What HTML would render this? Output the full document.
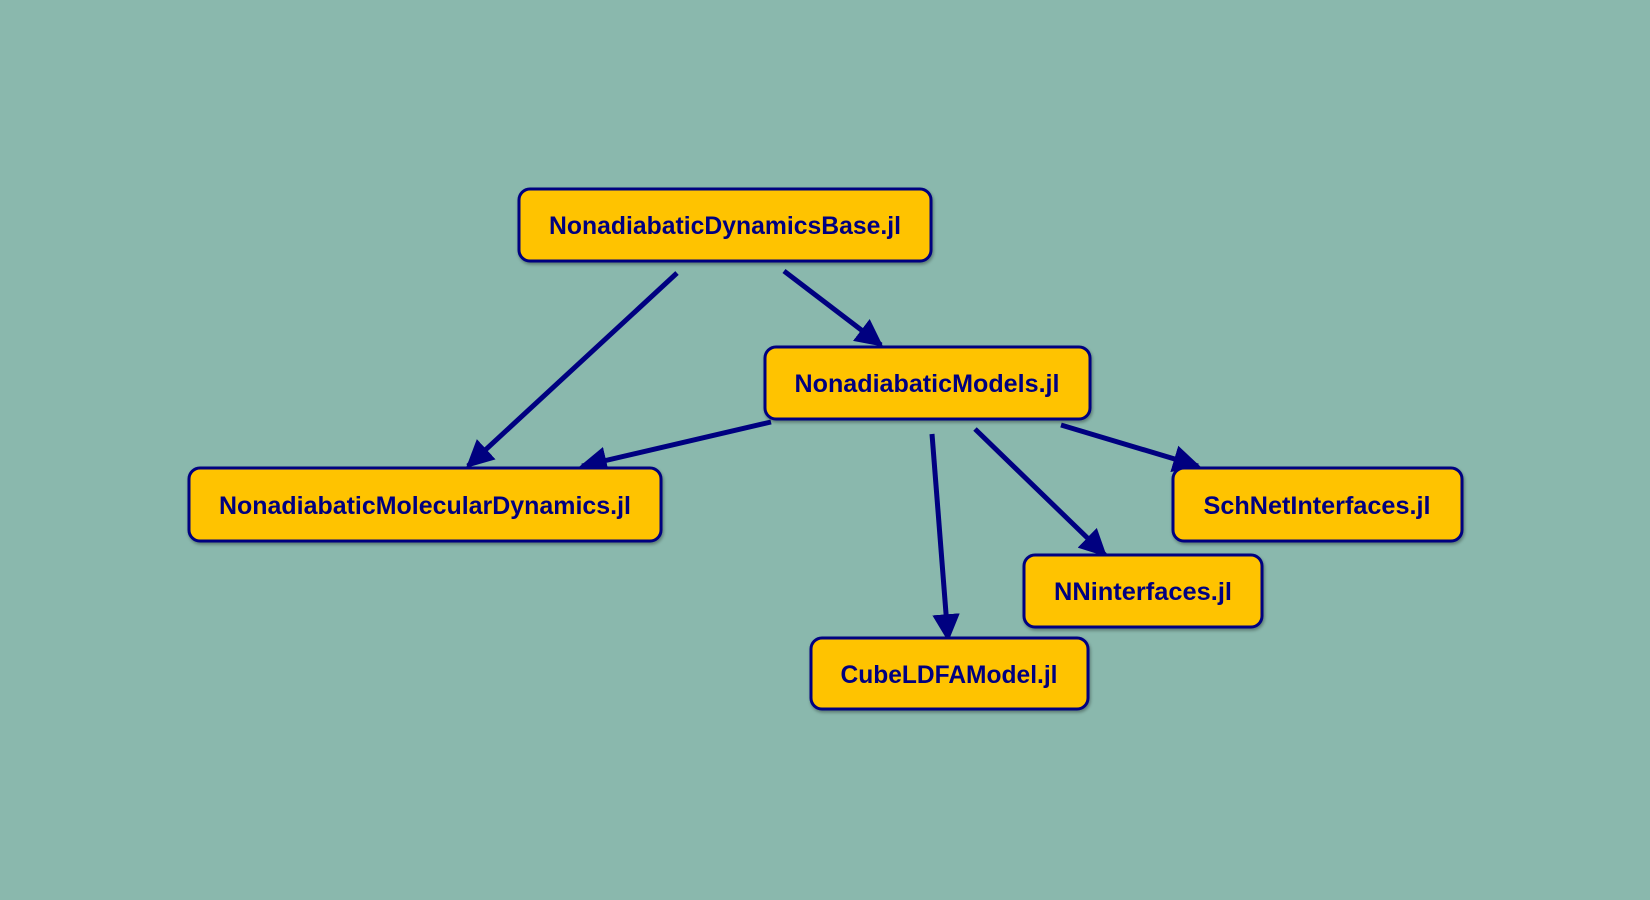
<!DOCTYPE html>
<html><head><style>
html,body{margin:0;padding:0;background:#8ab8ad;}
svg{display:block}
text{font-family:"Liberation Sans",sans-serif;font-weight:bold;font-size:24.8px;fill:#000080;}
</style></head><body>
<svg width="1650" height="900" viewBox="0 0 1650 900">
<defs>
<marker id="a" viewBox="0 0 10 10" refX="9" refY="5" markerWidth="5.5" markerHeight="5.5" orient="auto" markerUnits="strokeWidth">
<path d="M0,0 L10,5 L0,10 z" fill="#000080"/></marker>
<filter id="s" x="-10%" y="-10%" width="120%" height="130%"><feDropShadow dx="1" dy="2" stdDeviation="1.5" flood-opacity="0.35"/></filter>
</defs>
<rect width="1650" height="900" fill="#8ab8ad"/>
<g stroke="#000080" stroke-width="5" fill="none" marker-end="url(#a)">
<line x1="677" y1="273" x2="468" y2="466"/>
<line x1="784" y1="271" x2="881" y2="345"/>
<line x1="771" y1="422" x2="582" y2="466"/>
<line x1="932" y1="434" x2="948" y2="639"/>
<line x1="975" y1="429" x2="1105" y2="555"/>
<line x1="1061" y1="425" x2="1198" y2="466"/>
</g>
<g fill="#ffc300" stroke="#000080" stroke-width="3" filter="url(#s)">
<rect x="519" y="189" width="412" height="72" rx="11"/>
<rect x="765" y="347" width="325" height="72" rx="11"/>
<rect x="189" y="468" width="472" height="73" rx="11"/>
<rect x="1173" y="468" width="289" height="73" rx="11"/>
<rect x="1024" y="555" width="238" height="72" rx="11"/>
<rect x="811" y="638" width="277" height="71" rx="11"/>
</g>
<g text-anchor="middle">
<text x="725" y="234" textLength="352" lengthAdjust="spacingAndGlyphs">NonadiabaticDynamicsBase.jl</text>
<text x="927" y="392" textLength="265" lengthAdjust="spacingAndGlyphs">NonadiabaticModels.jl</text>
<text x="425" y="514" textLength="412" lengthAdjust="spacingAndGlyphs">NonadiabaticMolecularDynamics.jl</text>
<text x="1317" y="514" textLength="227" lengthAdjust="spacingAndGlyphs">SchNetInterfaces.jl</text>
<text x="1143" y="600" textLength="178" lengthAdjust="spacingAndGlyphs">NNinterfaces.jl</text>
<text x="949" y="683" textLength="217" lengthAdjust="spacingAndGlyphs">CubeLDFAModel.jl</text>
</g>
</svg>
</body></html>
